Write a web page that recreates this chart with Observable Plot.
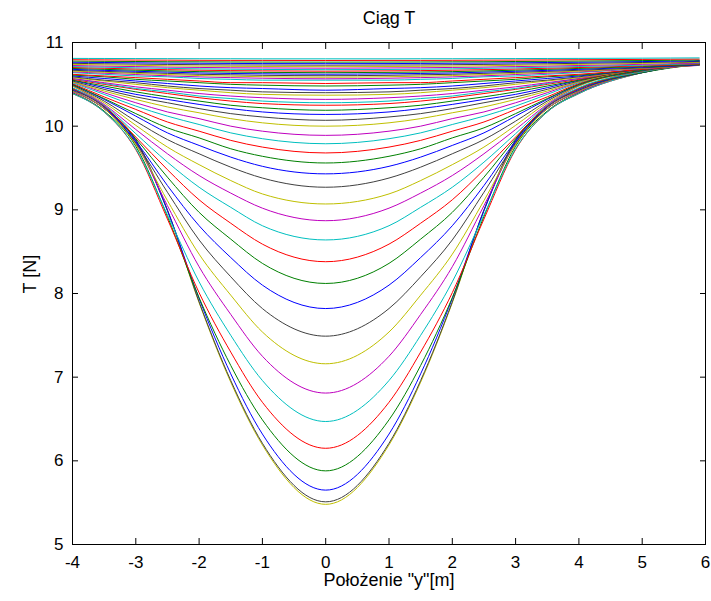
<!DOCTYPE html>
<html>
<head>
<meta charset="utf-8">
<script src="https://cdn.jsdelivr.net/npm/d3@7"></script>
<script src="https://cdn.jsdelivr.net/npm/@observablehq/plot@0.6"></script>
<style>
  html, body { margin: 0; padding: 0; background: #ffffff; }
  #chart svg { display: block; }
</style>
</head>
<body>
<div id="chart"></div>
<script>
// Positions "y" [m] at which every curve is sampled
const positions = [-4, -3.5, -3, -2.5, -2, -1.5, -1, 0, 1, 1.5, 2, 2.5, 3, 3.5, 4, 5, 5.9];

// Tension T [N] per curve, deepest first
const deepCurves = [
  [10.42, 10.21, 9.83, 8.99, 7.89, 6.94, 6.19, 5.48, 6.19, 6.94, 7.89, 8.99, 9.83, 10.21, 10.42, 10.68, 10.78],
  [10.42, 10.21, 9.84, 9.00, 7.90, 6.96, 6.21, 5.51, 6.21, 6.96, 7.90, 9.00, 9.84, 10.21, 10.42, 10.68, 10.78],
  [10.42, 10.21, 9.82, 8.99, 7.94, 7.04, 6.32, 5.65, 6.32, 7.04, 7.94, 8.99, 9.82, 10.21, 10.42, 10.67, 10.78],
  [10.40, 10.18, 9.76, 8.92, 7.95, 7.14, 6.49, 5.88, 6.49, 7.14, 7.95, 8.92, 9.76, 10.18, 10.40, 10.65, 10.77],
  [10.39, 10.17, 9.72, 8.89, 8.01, 7.30, 6.70, 6.15, 6.70, 7.30, 8.01, 8.89, 9.72, 10.17, 10.39, 10.64, 10.76],
  [10.39, 10.17, 9.73, 8.94, 8.14, 7.50, 6.96, 6.47, 6.96, 7.50, 8.14, 8.94, 9.73, 10.17, 10.39, 10.64, 10.75],
  [10.41, 10.21, 9.79, 9.05, 8.32, 7.75, 7.25, 6.81, 7.25, 7.75, 8.32, 9.05, 9.79, 10.21, 10.41, 10.65, 10.76],
  [10.42, 10.21, 9.78, 9.11, 8.47, 7.98, 7.54, 7.16, 7.54, 7.98, 8.47, 9.11, 9.78, 10.21, 10.42, 10.64, 10.75],
  [10.43, 10.23, 9.80, 9.21, 8.64, 8.20, 7.82, 7.49, 7.82, 8.20, 8.64, 9.21, 9.80, 10.23, 10.43, 10.64, 10.75],
  [10.44, 10.23, 9.82, 9.29, 8.81, 8.43, 8.10, 7.82, 8.10, 8.43, 8.81, 9.29, 9.82, 10.23, 10.44, 10.64, 10.75],
  [10.45, 10.24, 9.85, 9.39, 8.97, 8.65, 8.36, 8.12, 8.36, 8.65, 8.97, 9.39, 9.85, 10.24, 10.45, 10.64, 10.74],
  [10.45, 10.24, 9.87, 9.48, 9.12, 8.84, 8.59, 8.38, 8.59, 8.84, 9.12, 9.48, 9.87, 10.24, 10.45, 10.65, 10.74],
  [10.46, 10.25, 9.91, 9.57, 9.27, 9.03, 8.81, 8.64, 8.81, 9.03, 9.27, 9.57, 9.91, 10.25, 10.46, 10.65, 10.74],
  [10.48, 10.26, 9.96, 9.67, 9.41, 9.20, 9.02, 8.87, 9.02, 9.20, 9.41, 9.67, 9.96, 10.26, 10.48, 10.66, 10.74]
];
const middleCurves = [
  [10.48, 10.28, 10.01, 9.75, 9.54, 9.35, 9.19, 9.07, 9.19, 9.35, 9.54, 9.75, 10.01, 10.28, 10.48, 10.66, 10.74],
  [10.49, 10.30, 10.06, 9.84, 9.67, 9.51, 9.38, 9.27, 9.38, 9.51, 9.67, 9.84, 10.06, 10.30, 10.49, 10.66, 10.74],
  [10.50, 10.32, 10.12, 9.92, 9.77, 9.63, 9.52, 9.43, 9.52, 9.63, 9.77, 9.92, 10.12, 10.32, 10.50, 10.67, 10.74],
  [10.50, 10.33, 10.15, 9.98, 9.86, 9.73, 9.64, 9.56, 9.64, 9.73, 9.86, 9.98, 10.15, 10.33, 10.50, 10.67, 10.74],
  [10.51, 10.35, 10.20, 10.05, 9.94, 9.83, 9.75, 9.68, 9.75, 9.83, 9.94, 10.05, 10.20, 10.35, 10.51, 10.68, 10.74],
  [10.52, 10.38, 10.24, 10.12, 10.02, 9.92, 9.85, 9.79, 9.85, 9.92, 10.02, 10.12, 10.24, 10.38, 10.52, 10.69, 10.75],
  [10.53, 10.40, 10.28, 10.17, 10.09, 10.00, 9.94, 9.89, 9.94, 10.00, 10.09, 10.17, 10.28, 10.40, 10.53, 10.69, 10.75],
  [10.53, 10.42, 10.32, 10.23, 10.16, 10.09, 10.04, 10.00, 10.04, 10.09, 10.16, 10.23, 10.32, 10.42, 10.53, 10.69, 10.75],
  [10.54, 10.44, 10.35, 10.28, 10.21, 10.15, 10.11, 10.07, 10.11, 10.15, 10.21, 10.28, 10.35, 10.44, 10.54, 10.69, 10.75],
  [10.55, 10.46, 10.38, 10.32, 10.26, 10.21, 10.17, 10.14, 10.17, 10.21, 10.26, 10.32, 10.38, 10.46, 10.55, 10.69, 10.75],
  [10.55, 10.48, 10.41, 10.35, 10.30, 10.25, 10.22, 10.19, 10.22, 10.25, 10.30, 10.35, 10.41, 10.48, 10.55, 10.69, 10.75],
  [10.56, 10.50, 10.44, 10.39, 10.34, 10.30, 10.27, 10.25, 10.27, 10.30, 10.34, 10.39, 10.44, 10.50, 10.56, 10.69, 10.75],
  [10.57, 10.51, 10.45, 10.41, 10.36, 10.33, 10.30, 10.28, 10.30, 10.33, 10.36, 10.41, 10.45, 10.51, 10.57, 10.69, 10.75],
  [10.57, 10.52, 10.47, 10.43, 10.39, 10.36, 10.34, 10.32, 10.34, 10.36, 10.39, 10.43, 10.47, 10.52, 10.57, 10.69, 10.75],
  [10.58, 10.54, 10.50, 10.46, 10.43, 10.40, 10.38, 10.37, 10.38, 10.40, 10.43, 10.46, 10.50, 10.54, 10.58, 10.68, 10.75],
  [10.59, 10.55, 10.52, 10.48, 10.45, 10.43, 10.41, 10.40, 10.41, 10.43, 10.45, 10.48, 10.52, 10.55, 10.59, 10.68, 10.75],
  [10.60, 10.57, 10.54, 10.51, 10.48, 10.46, 10.45, 10.43, 10.45, 10.46, 10.48, 10.51, 10.54, 10.57, 10.60, 10.68, 10.75],
  [10.61, 10.59, 10.56, 10.54, 10.52, 10.50, 10.49, 10.48, 10.49, 10.50, 10.52, 10.54, 10.56, 10.59, 10.61, 10.68, 10.74],
  [10.62, 10.60, 10.58, 10.56, 10.54, 10.52, 10.52, 10.51, 10.52, 10.52, 10.54, 10.56, 10.58, 10.60, 10.62, 10.68, 10.73],
  [10.64, 10.62, 10.60, 10.59, 10.57, 10.56, 10.55, 10.55, 10.55, 10.56, 10.57, 10.59, 10.60, 10.62, 10.64, 10.69, 10.73]
];
const bandCurves = [
  [10.649, 10.633, 10.617, 10.602, 10.589, 10.580, 10.573, 10.566, 10.573, 10.580, 10.589, 10.602, 10.617, 10.633, 10.649, 10.689, 10.726],
  [10.658, 10.644, 10.630, 10.617, 10.605, 10.597, 10.591, 10.585, 10.591, 10.597, 10.605, 10.617, 10.630, 10.644, 10.658, 10.693, 10.728],
  [10.668, 10.655, 10.643, 10.631, 10.620, 10.614, 10.608, 10.603, 10.608, 10.614, 10.620, 10.631, 10.643, 10.655, 10.668, 10.697, 10.730],
  [10.679, 10.667, 10.656, 10.646, 10.636, 10.630, 10.626, 10.621, 10.626, 10.630, 10.636, 10.646, 10.656, 10.667, 10.679, 10.705, 10.734],
  [10.690, 10.679, 10.669, 10.660, 10.652, 10.647, 10.643, 10.639, 10.643, 10.647, 10.652, 10.660, 10.669, 10.679, 10.690, 10.712, 10.738],
  [10.701, 10.692, 10.683, 10.675, 10.669, 10.664, 10.661, 10.657, 10.661, 10.664, 10.669, 10.675, 10.683, 10.692, 10.701, 10.720, 10.743],
  [10.713, 10.705, 10.697, 10.691, 10.685, 10.681, 10.678, 10.675, 10.678, 10.681, 10.685, 10.691, 10.697, 10.705, 10.713, 10.729, 10.748],
  [10.725, 10.718, 10.712, 10.706, 10.702, 10.698, 10.696, 10.693, 10.696, 10.698, 10.702, 10.706, 10.712, 10.718, 10.725, 10.739, 10.755],
  [10.738, 10.732, 10.727, 10.722, 10.718, 10.715, 10.713, 10.711, 10.713, 10.715, 10.718, 10.722, 10.727, 10.732, 10.738, 10.750, 10.762],
  [10.751, 10.746, 10.742, 10.738, 10.735, 10.732, 10.731, 10.729, 10.731, 10.732, 10.735, 10.738, 10.742, 10.746, 10.751, 10.761, 10.771],
  [10.764, 10.761, 10.757, 10.754, 10.752, 10.750, 10.748, 10.747, 10.748, 10.750, 10.752, 10.754, 10.757, 10.761, 10.764, 10.772, 10.780],
  [10.778, 10.775, 10.773, 10.770, 10.769, 10.767, 10.766, 10.765, 10.766, 10.767, 10.769, 10.770, 10.773, 10.775, 10.778, 10.784, 10.790],
  [10.794, 10.792, 10.790, 10.789, 10.787, 10.786, 10.786, 10.785, 10.786, 10.786, 10.787, 10.789, 10.790, 10.792, 10.794, 10.798, 10.802],
  [10.810, 10.809, 10.808, 10.807, 10.806, 10.806, 10.805, 10.805, 10.805, 10.806, 10.806, 10.807, 10.808, 10.809, 10.810, 10.813, 10.816]
];

// MATLAB line colour order: b g r c m y k ; the deepest curve is yellow
const colorOrder = ["#0000ff", "#008000", "#ff0000", "#00bfbf", "#bf00bf", "#bfbf00", "#404040"];
const colorOffset = 5;

const xTicks = [-4, -3, -2, -1, 0, 1, 2, 3, 4, 5, 6];
const yTicks = [5, 6, 7, 8, 9, 10, 11];

const titleText = "Ciąg T";
const xLabel = "Położenie \"y\"[m]";
const yLabel = "T [N]";

const allCurves = [...deepCurves, ...middleCurves, ...bandCurves];

const lineMarks = allCurves.map((vals, k) => {
  const rows = positions.map((p, j) => ({y: p, T: vals[j]}));
  return Plot.line(rows, {
    x: "y", y: "T",
    stroke: colorOrder[(k + colorOffset) % 7],
    strokeWidth: 1,
    curve: "monotone-x"
  });
});

const fontFamily = "'Liberation Sans', Arial, sans-serif";
const fmt = d => String(d);

const chart = Plot.plot({
  width: 711,
  height: 601,
  marginLeft: 72,
  marginRight: 6,
  marginTop: 42,
  marginBottom: 57,
  x: {domain: [-4, 6]},
  y: {domain: [5, 11]},
  style: {fontFamily, fontSize: "17px", color: "black", background: "white"},
  marks: [
    ...lineMarks,
    Plot.frame({stroke: "black", strokeWidth: 1}),
    Plot.axisX(xTicks, {anchor: "bottom", tickSize: 0, tickPadding: 11, label: null, tickFormat: fmt, fontSize: 17}),
    Plot.axisX(xTicks, {anchor: "bottom", tickSize: -6, tickFormat: () => "", label: null}),
    Plot.axisX(xTicks, {anchor: "top", tickSize: -6, tickFormat: () => "", label: null}),
    Plot.axisY(yTicks, {anchor: "left", tickSize: 0, tickPadding: 9, label: null, tickFormat: fmt, fontSize: 17}),
    Plot.axisY(yTicks, {anchor: "left", tickSize: -6, tickFormat: () => "", label: null}),
    Plot.axisY(yTicks, {anchor: "right", tickSize: -6, tickFormat: () => "", label: null}),
    Plot.text([titleText], {frameAnchor: "top", dy: -24, fontSize: 18, lineAnchor: "middle"}),
    Plot.text([xLabel], {frameAnchor: "bottom", dy: 36, fontSize: 18, lineAnchor: "middle"}),
    Plot.text([yLabel], {frameAnchor: "left", dx: -42, rotate: -90, fontSize: 18, lineAnchor: "middle"})
  ]
});

document.getElementById("chart").appendChild(chart);
</script>
</body>
</html>
